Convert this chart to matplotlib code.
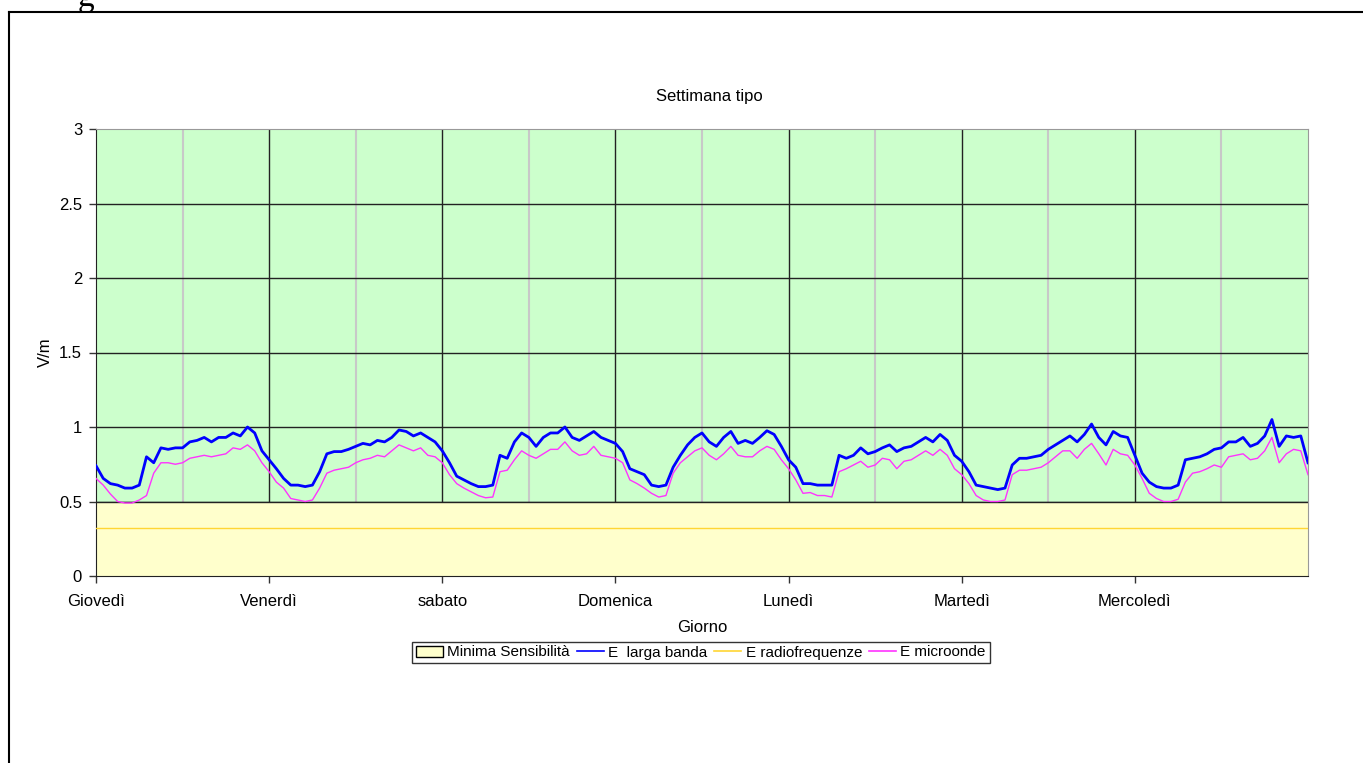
import matplotlib
matplotlib.use("Agg")
import matplotlib.pyplot as plt
from matplotlib.patches import Patch
from matplotlib.lines import Line2D
import numpy as np

plt.rcParams['font.family'] = ['Liberation Sans', 'DejaVu Sans']

title = "Settimana tipo"
days = ["Giovedì", "Venerdì", "sabato", "Domenica", "Lunedì", "Martedì", "Mercoledì"]
y_ticks = [0, 0.5, 1, 1.5, 2, 2.5, 3]
y_tick_labels = ["0", "0.5", "1", "1.5", "2", "2.5", "3"]

# hourly readings (hour 0..23 of each day)
blue_d1 = [0.74,0.655,0.62,0.61,0.59,0.59,0.61,0.80,0.76,0.86,0.85,0.86,0.86,0.90,0.91,0.93,0.90,0.93,0.93,0.96,0.94,1.00,0.96,0.84]
blue_d2 = [0.78,0.72,0.655,0.61,0.61,0.60,0.61,0.70,0.82,0.835,0.835,0.85,0.87,0.89,0.88,0.91,0.90,0.93,0.98,0.97,0.94,0.96,0.93,0.90]
blue_d3 = [0.84,0.76,0.67,0.645,0.62,0.60,0.60,0.61,0.81,0.79,0.90,0.96,0.93,0.87,0.93,0.96,0.96,1.00,0.93,0.91,0.94,0.97,0.93,0.91]
blue_d4 = [0.89,0.835,0.72,0.70,0.68,0.61,0.60,0.61,0.73,0.81,0.88,0.93,0.96,0.90,0.87,0.93,0.97,0.89,0.91,0.89,0.93,0.975,0.95,0.87]
blue_d5 = [0.78,0.73,0.62,0.62,0.61,0.61,0.61,0.81,0.79,0.81,0.86,0.82,0.835,0.86,0.88,0.835,0.86,0.87,0.90,0.93,0.90,0.95,0.91,0.81]
blue_d6 = [0.77,0.70,0.61,0.60,0.59,0.58,0.59,0.745,0.79,0.79,0.80,0.81,0.85,0.88,0.91,0.94,0.90,0.95,1.02,0.93,0.88,0.97,0.94,0.93]
blue_d7 = [0.81,0.69,0.63,0.60,0.59,0.59,0.61,0.78,0.79,0.80,0.82,0.85,0.86,0.90,0.90,0.93,0.87,0.89,0.94,1.05,0.87,0.94,0.93,0.94,0.76]

mag_d1 = [0.655,0.61,0.55,0.50,0.49,0.49,0.51,0.54,0.69,0.76,0.76,0.75,0.76,0.79,0.80,0.81,0.80,0.81,0.82,0.86,0.85,0.88,0.84,0.76]
mag_d2 = [0.70,0.63,0.59,0.52,0.51,0.50,0.51,0.59,0.69,0.71,0.72,0.73,0.76,0.78,0.79,0.81,0.80,0.84,0.88,0.86,0.84,0.86,0.81,0.80]
mag_d3 = [0.76,0.68,0.62,0.59,0.565,0.54,0.525,0.53,0.70,0.71,0.78,0.84,0.81,0.79,0.82,0.85,0.85,0.90,0.84,0.81,0.82,0.87,0.81,0.80]
mag_d4 = [0.79,0.76,0.645,0.62,0.59,0.555,0.53,0.54,0.69,0.76,0.80,0.84,0.86,0.81,0.78,0.82,0.87,0.81,0.80,0.80,0.84,0.87,0.85,0.78]
mag_d5 = [0.72,0.645,0.555,0.56,0.54,0.54,0.53,0.70,0.72,0.745,0.77,0.73,0.745,0.79,0.78,0.72,0.77,0.78,0.81,0.84,0.81,0.85,0.81,0.72]
mag_d6 = [0.68,0.62,0.54,0.51,0.50,0.50,0.51,0.68,0.71,0.71,0.72,0.73,0.76,0.80,0.84,0.84,0.79,0.85,0.89,0.82,0.745,0.85,0.82,0.81]
mag_d7 = [0.745,0.655,0.555,0.52,0.50,0.50,0.515,0.63,0.69,0.70,0.72,0.745,0.73,0.80,0.81,0.82,0.78,0.79,0.84,0.93,0.76,0.82,0.85,0.84,0.68]

radio_values = [0.32, 0.32]
min_sens_values = [0.5, 0.5]

blue = blue_d1 + blue_d2 + blue_d3 + blue_d4 + blue_d5 + blue_d6 + blue_d7
mag = mag_d1 + mag_d2 + mag_d3 + mag_d4 + mag_d5 + mag_d6 + mag_d7
hours = np.arange(len(blue))
total = len(blue) - 1

fig = plt.figure(figsize=(13.63, 7.63), dpi=100)
ax = fig.add_axes([96/1363, 1 - 576/763, (1308-96)/1363, (576-129)/763])
ax.set_facecolor('#CCFFCC')

# grid
for y in y_ticks[1:-1]:
    ax.axhline(y, color='#222222', lw=1, zorder=1)
for d in range(1, 7):
    ax.axvline(d*24, color='#222222', lw=1, zorder=1)
for d in range(7):
    ax.axvline(d*24 + 12, color='#C8C8C8', lw=1.5, zorder=0.9)

# min sensitivity area
ax.fill_between([0, total], [0, 0], min_sens_values, color='#FFFFCC', zorder=2, lw=0)
ax.plot([0, total], min_sens_values, color='#222222', lw=1, zorder=2.1)
ax.plot([0, total], radio_values, color='#FFD633', lw=1, zorder=3)
ax.plot(hours, mag, color='#FF33FF', lw=1, zorder=4)
ax.plot(hours, blue, color='#0000FF', lw=2, zorder=5)

ax.set_xlim(0, total)
ax.set_ylim(0, 3)
ax.set_yticks(y_ticks)
ax.set_yticklabels(y_tick_labels)
ax.set_xticks([d*24 for d in range(7)])
ax.set_xticklabels(days)
ax.tick_params(axis='both', labelsize=12, length=5, width=1, color='#333333', direction='out')
ax.tick_params(axis='x', pad=8)
ax.tick_params(axis='y', pad=5)
for s in ['left', 'bottom']:
    ax.spines[s].set_color('#222222')
for s in ['top', 'right']:
    ax.spines[s].set_color('#999999')

fig.text(709/1363, 1 - 97/763, title, fontsize=12, ha='center', va='center')
fig.text(702/1363, 1 - 627/763, "Giorno", fontsize=12, ha='center', va='center')
fig.text(45/1363, 1 - 352/763, "V/m", fontsize=12, ha='center', va='center', rotation=90)

handles = [Patch(facecolor='#FFFFCC', edgecolor='black', lw=1),
           Line2D([], [], color='#0000FF', lw=1.2),
           Line2D([], [], color='#FFD633', lw=1.2),
           Line2D([], [], color='#FF33FF', lw=1.2)]
labels = ["Minima Sensibilità", "E  larga banda", "E radiofrequenze", "E microonde"]
leg = fig.legend(handles, labels, ncol=4, loc='center', bbox_to_anchor=(701/1363, 1 - 652.5/763),
                 fontsize=11, frameon=True, fancybox=False, edgecolor='black',
                 handlelength=1.75, handletextpad=0.3, columnspacing=0.45, borderpad=0.25,
                 borderaxespad=0)
leg.get_frame().set_linewidth(1)

# outer frame
fig.add_artist(Line2D([9/1363, 1], [1 - 12/763, 1 - 12/763], color='black', lw=1.5, transform=fig.transFigure))
fig.add_artist(Line2D([9/1363, 9/1363], [1 - 12/763, 0], color='black', lw=1.5, transform=fig.transFigure))
fig.text(86/1363, 1 + 2/763, 'g', fontsize=24, family='Liberation Serif', ha='center', va='center')

fig.savefig('out.png', dpi=100)
